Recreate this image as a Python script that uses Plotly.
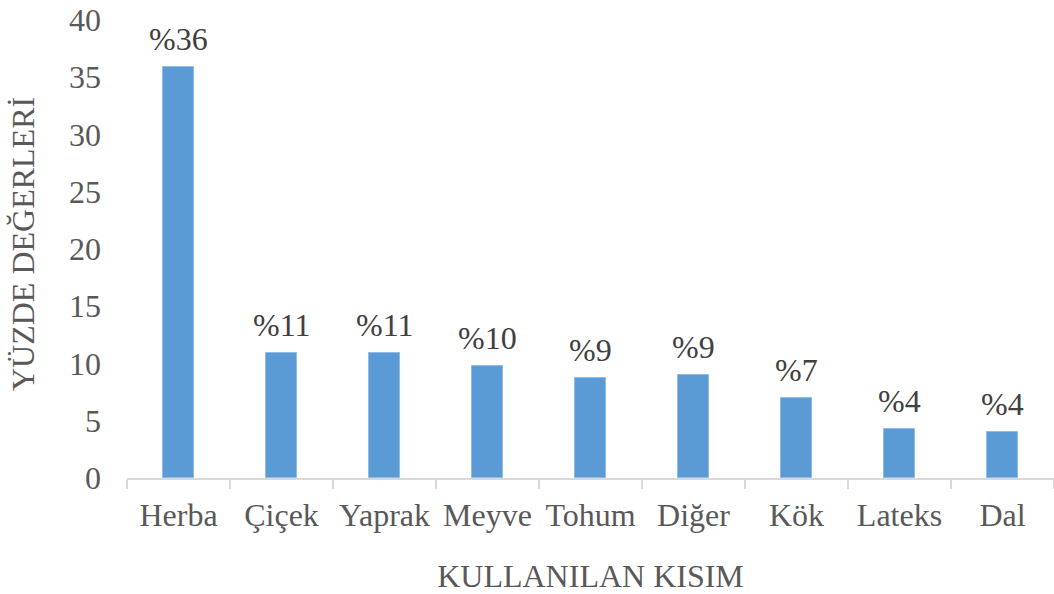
import plotly.graph_objects as go

categories = ["Herba", "Çiçek", "Yaprak", "Meyve", "Tohum", "Diğer", "Kök", "Lateks", "Dal"]
values = [35.9, 10.9, 10.9, 9.8, 8.7, 9.0, 7.0, 4.3, 4.0]
labels = ["%36", "%11", "%11", "%10", "%9", "%9", "%7", "%4", "%4"]
y_ticks = [0, 5, 10, 15, 20, 25, 30, 35, 40]

FONT = "Liberation Serif, Times New Roman, serif"
FS = 32

fig = go.Figure()
fig.add_trace(go.Bar(
    x=categories, y=values, width=0.31,
    marker=dict(color="#5b9bd5", line=dict(color="#8fbde6", width=1)),
    hoverinfo="skip",
))

for c, v, t in zip(categories, values, labels):
    fig.add_annotation(x=c, y=v, text=t, showarrow=False, yanchor="bottom",
                       yshift=8, font=dict(family=FONT, size=FS, color="#404040"))

# y-axis title as rotated annotation
fig.add_annotation(text="YÜZDE DEĞERLERİ", textangle=-90, showarrow=False,
                   xref="paper", yref="paper", x=0, y=0.5,
                   xanchor="center", yanchor="middle", xshift=-104, yshift=5,
                   font=dict(family=FONT, size=FS, color="#595959"))

fig.update_layout(
    width=1054, height=594,
    margin=dict(l=127, r=0, t=20, b=116),
    plot_bgcolor="white", paper_bgcolor="white",
    showlegend=False, bargap=0,
    font=dict(family=FONT, size=FS, color="#595959"),
)
fig.update_xaxes(
    showline=True, linecolor="#d9d9d9", linewidth=2,
    ticks="outside", tickson="boundaries", ticklen=9, tickcolor="#d9d9d9", tickwidth=2,
    tickfont=dict(family=FONT, size=FS, color="#595959"),
    ticklabelstandoff=8,
    title=dict(text="KULLANILAN KISIM", font=dict(family=FONT, size=FS, color="#595959"), standoff=32),
    showgrid=False,
)
fig.update_yaxes(
    range=[0, 40], tickvals=y_ticks, showgrid=False, zeroline=False, showline=False,
    tickfont=dict(family=FONT, size=FS, color="#595959"),
    ticklabelstandoff=25, ticklabeloverflow="allow", automargin=False,
)

fig.write_html("out.html", config={"displayModeBar": False},
               post_script="document.body.style.margin='0px';")
